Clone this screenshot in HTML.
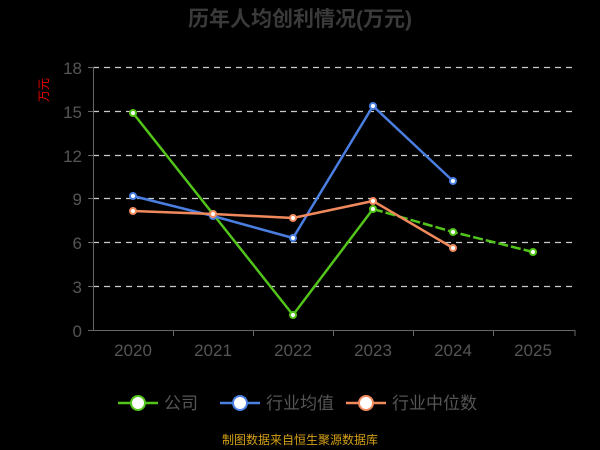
<!DOCTYPE html>
<html><head><meta charset="utf-8"><style>
html,body{margin:0;padding:0;background:#000;width:600px;height:450px;overflow:hidden}
svg text{font-family:"Liberation Sans","Noto Sans CJK SC",sans-serif}
</style></head><body>
<svg width="600" height="450" xmlns="http://www.w3.org/2000/svg">
<rect width="600" height="450" fill="#000"/>
<text x="300" y="26" text-anchor="middle" font-size="21" font-weight="bold" fill="#3a3a3a">历年人均创利情况(万元)</text>
<text transform="translate(48,90) rotate(-90)" text-anchor="middle" font-size="12" fill="#e00">万元</text>
<g stroke="#ccc" stroke-dasharray="6,5" stroke-width="1.3">
<line x1="93" x2="575" y1="67.5" y2="67.5"/><line x1="93" x2="575" y1="111.5" y2="111.5"/>
<line x1="93" x2="575" y1="155.5" y2="155.5"/><line x1="93" x2="575" y1="198.5" y2="198.5"/>
<line x1="93" x2="575" y1="242.5" y2="242.5"/><line x1="93" x2="575" y1="286.5" y2="286.5"/>
</g>
<g stroke="#666" stroke-width="1"><line x1="93.5" y1="67" x2="93.5" y2="330"/><line x1="93" y1="330.5" x2="575" y2="330.5"/>
<line x1="88" x2="93" y1="67.5" y2="67.5"/><line x1="88" x2="93" y1="111.5" y2="111.5"/><line x1="88" x2="93" y1="155.5" y2="155.5"/><line x1="88" x2="93" y1="198.5" y2="198.5"/><line x1="88" x2="93" y1="242.5" y2="242.5"/><line x1="88" x2="93" y1="286.5" y2="286.5"/><line x1="88" x2="93" y1="330.5" y2="330.5"/>
<line x1="173.5" x2="173.5" y1="330" y2="336"/><line x1="253.5" x2="253.5" y1="330" y2="336"/><line x1="333.5" x2="333.5" y1="330" y2="336"/><line x1="413.5" x2="413.5" y1="330" y2="336"/><line x1="493.5" x2="493.5" y1="330" y2="336"/><line x1="575" x2="575" y1="330" y2="336"/></g>
<g font-size="17" fill="#555" text-anchor="end">
<text x="82" y="74">18</text><text x="82" y="118">15</text><text x="82" y="162">12</text><text x="82" y="205">9</text><text x="82" y="249">6</text><text x="82" y="293">3</text><text x="82" y="337">0</text></g>
<g font-size="17" fill="#555" text-anchor="middle">
<text x="133" y="356">2020</text><text x="213" y="356">2021</text><text x="293" y="356">2022</text><text x="373" y="356">2023</text><text x="453" y="356">2024</text><text x="533" y="356">2025</text></g>
<g fill="#fff" stroke-width="2">
<polyline points="133,113 213,214 293,315 373,209" fill="none" stroke="#52c41a" stroke-width="2.5"/>
<polyline points="373,209 453,232 533,252" fill="none" stroke="#52c41a" stroke-width="2.5" stroke-dasharray="10,3"/>
<polyline points="133,196 213,216 293,238 373,106 453,181" fill="none" stroke="#4a7ee0" stroke-width="2.5"/>
<polyline points="133,211 213,214 293,218 373,201 453,248" fill="none" stroke="#f08a5d" stroke-width="2.5"/>
<g stroke="#52c41a"><circle cx="133" cy="113" r="3"/><circle cx="213" cy="214" r="3"/><circle cx="293" cy="315" r="3"/><circle cx="373" cy="209" r="3"/><circle cx="453" cy="232" r="3"/><circle cx="533" cy="252" r="3"/></g>
<g stroke="#4a7ee0"><circle cx="133" cy="196" r="3"/><circle cx="213" cy="216" r="3"/><circle cx="293" cy="238" r="3"/><circle cx="373" cy="106" r="3"/><circle cx="453" cy="181" r="3"/></g>
<g stroke="#f08a5d"><circle cx="133" cy="211" r="3"/><circle cx="213" cy="214" r="3"/><circle cx="293" cy="218" r="3"/><circle cx="373" cy="201" r="3"/><circle cx="453" cy="248" r="3"/></g>
</g>
<g font-size="17" fill="#555">
<line x1="118" x2="158" y1="403" y2="403" stroke="#52c41a" stroke-width="2.5"/><circle cx="138" cy="403" r="7" fill="#fff" stroke="#52c41a" stroke-width="2"/><text x="164" y="409">公司</text>
<line x1="220" x2="260" y1="403" y2="403" stroke="#4a7ee0" stroke-width="2.5"/><circle cx="240" cy="403" r="7" fill="#fff" stroke="#4a7ee0" stroke-width="2"/><text x="266" y="409">行业均值</text>
<line x1="346" x2="386" y1="403" y2="403" stroke="#f08a5d" stroke-width="2.5"/><circle cx="366" cy="403" r="7" fill="#fff" stroke="#f08a5d" stroke-width="2"/><text x="392" y="409">行业中位数</text>
</g>
<text x="300" y="444" text-anchor="middle" font-size="12" fill="#d4a017">制图数据来自恒生聚源数据库</text>
</svg>
</body></html>
